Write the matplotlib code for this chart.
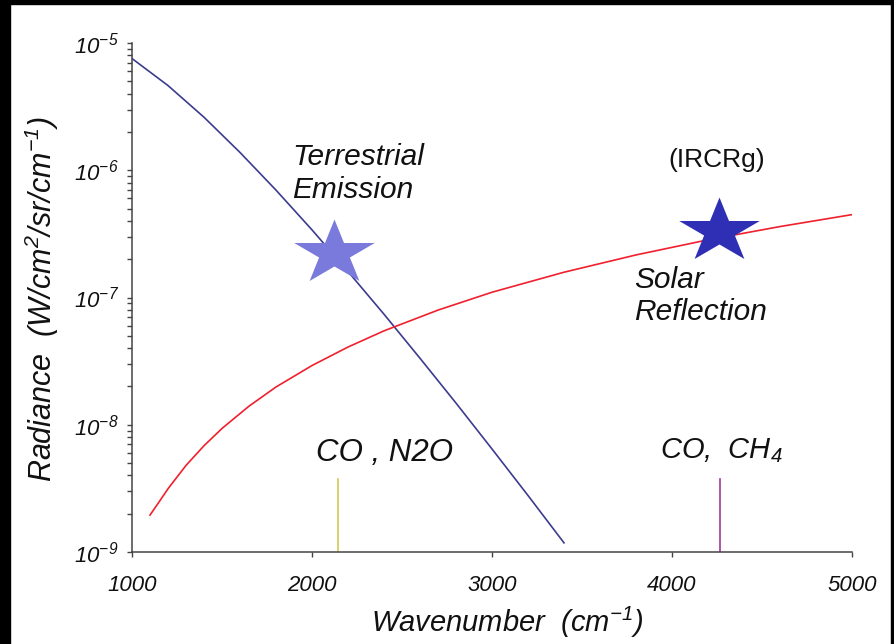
import numpy as np
import matplotlib
matplotlib.use('Agg')
import matplotlib.pyplot as plt
from matplotlib.patches import Rectangle
from matplotlib.ticker import LogLocator, NullFormatter, FixedLocator, FixedFormatter

# ---------------- data ----------------
emit_wn = [1000, 1200, 1400, 1600, 1800, 2000, 2200, 2400, 2600, 2800, 3000, 3200, 3400]
emit_rad = [7.55e-6, 4.63e-6, 2.61e-6, 1.38e-6, 6.98e-7, 3.40e-7, 1.60e-7, 7.39e-8,
            3.33e-8, 1.48e-8, 6.45e-9, 2.78e-9, 1.18e-9]

refl_wn = [1100, 1150, 1200, 1300, 1400, 1500, 1650, 1800, 2000, 2200, 2400, 2700,
           3000, 3400, 3800, 4200, 4600, 5000]
refl_rad = [1.95e-9, 2.47e-9, 3.14e-9, 4.79e-9, 6.84e-9, 9.35e-9, 1.40e-8, 1.98e-8,
            2.92e-8, 4.08e-8, 5.47e-8, 7.96e-8, 1.10e-7, 1.58e-7, 2.16e-7, 2.84e-7,
            3.61e-7, 4.48e-7]

star_wn = [2122, 4261]
star_rad = [2.25e-7, 3.33e-7]

band_wn = [2143, 4265]
band_top = 3.75e-9

xticks = [1000, 2000, 3000, 4000, 5000]
xtick_labels = ['1000', '2000', '3000', '4000', '5000']
yticks = [1e-9, 1e-8, 1e-7, 1e-6, 1e-5]
ytick_labels = [r'$10^{-9}$', r'$10^{-8}$', r'$10^{-7}$', r'$10^{-6}$', r'$10^{-5}$']

# ---------------- style ----------------
plt.rcParams['font.family'] = ['Liberation Sans', 'DejaVu Sans']
plt.rcParams['mathtext.fontset'] = 'custom'
plt.rcParams['mathtext.rm'] = 'Liberation Sans:italic'
plt.rcParams['mathtext.it'] = 'Liberation Sans:italic'
plt.rcParams['mathtext.sf'] = 'Liberation Sans:italic'

W, H = 894, 644
fig = plt.figure(figsize=(W / 100, H / 100), dpi=100)
fig.patch.set_facecolor('white')


def P(x, y):
    return x / W, 1 - y / H


ax = fig.add_axes([132 / W, 1 - 552 / H, 720 / W, 509 / H])
ax.set_yscale('log')
ax.set_xlim(1000, 5000)
ax.set_ylim(1e-9, 1e-5)

# curves
ax.plot(emit_wn, emit_rad, color='#3c3c8e', lw=1.2, zorder=3)
ax.plot(refl_wn, refl_rad, color='#f0202e', lw=1.2, zorder=3)

# band lines
band_colors = ['#d4c855', '#a2389e']
for wn, c in zip(band_wn, band_colors):
    ax.plot([wn, wn], [1e-9, band_top], color=c, lw=1.2, zorder=2)

# stars (horizontally stretched five-point star)
ang = np.pi / 2 + np.arange(10) * np.pi / 5
rr = np.where(np.arange(10) % 2 == 0, 1.0, 0.381966)
star_verts = np.column_stack([1.246 * rr * np.cos(ang), rr * np.sin(ang)])
star_verts = np.vstack([star_verts, star_verts[:1]])
star_colors = ['#7a7adc', '#2f2fb6']
for x, y, c in zip(star_wn, star_rad, star_colors):
    ax.plot([x], [y], marker=star_verts, ms=58, color=c, mec='none',
            ls='none', zorder=5, clip_on=False)

# axes styling
for s in ['top', 'right']:
    ax.spines[s].set_visible(False)
for s in ['left', 'bottom']:
    ax.spines[s].set_color('#444444')
    ax.spines[s].set_linewidth(1.1)

ax.xaxis.set_major_locator(FixedLocator(xticks))
ax.xaxis.set_major_formatter(FixedFormatter(xtick_labels))
ax.yaxis.set_major_locator(FixedLocator(yticks))
ax.yaxis.set_major_formatter(FixedFormatter(ytick_labels))
ax.yaxis.set_minor_locator(LogLocator(base=10, subs=np.arange(2, 10)))
ax.yaxis.set_minor_formatter(NullFormatter())

ax.tick_params(axis='x', which='major', direction='out', length=3.5, width=1,
               color='#444444', pad=13, labelsize=16, labelcolor='#111111')
ax.tick_params(axis='y', which='major', direction='out', length=3.5, width=1,
               color='#444444', pad=6, labelsize=16, labelcolor='#111111')
ax.tick_params(axis='y', which='minor', direction='out', length=3.5, width=1,
               color='#444444')
for lab in ax.get_xticklabels():
    lab.set_fontstyle('italic')

# axis titles
fig.text(*P(507, 622), r'Wavenumber  (cm$^{-1}$)', ha='center', va='center',
         fontsize=21, style='italic', color='#111111')
fig.text(*P(42, 299), r'Radiance  (W/cm$^{2}$/sr/cm$^{-1}$)', ha='center',
         va='center', rotation=90, fontsize=22, style='italic', color='#111111')

# annotations
txt_kw = dict(ha='left', va='baseline', style='italic', color='#111111')
fig.text(*P(292, 165), 'Terrestrial', fontsize=21.5, **txt_kw)
fig.text(*P(292, 198), 'Emission', fontsize=21.5, **txt_kw)
fig.text(*P(634, 288), 'Solar', fontsize=21.5, **txt_kw)
fig.text(*P(634, 320), 'Reflection', fontsize=21.5, **txt_kw)
fig.text(*P(316, 461), 'CO , N2O', fontsize=22.5, **txt_kw)
fig.text(*P(660, 458), r'CO,  CH$_4$', fontsize=21, **txt_kw)
fig.text(*P(717, 167), '(IRCRg)', fontsize=19, ha='center', va='baseline',
         color='#111111')

# black frame pieces of the original screenshot
fig.patches.append(Rectangle((0, 0), 10 / W, 1, transform=fig.transFigure,
                             color='black', zorder=10))
fig.patches.append(Rectangle((0, 1 - 4 / H), 1, 4 / H, transform=fig.transFigure,
                             color='black', zorder=10))
fig.patches.append(Rectangle((891 / W, 0), 3 / W, 1, transform=fig.transFigure,
                             color='black', zorder=10))

fig.savefig('out.png', dpi=100, facecolor='white')
